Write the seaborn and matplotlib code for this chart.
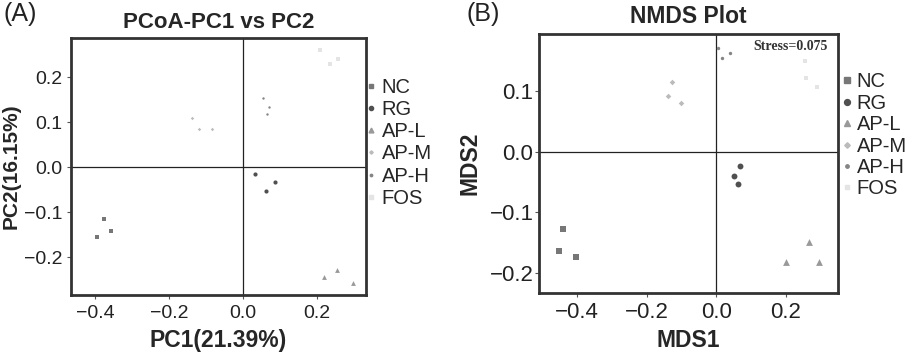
import numpy as np
import pandas as pd
import matplotlib
matplotlib.use("Agg")
import matplotlib.pyplot as plt
import seaborn as sns
from matplotlib.lines import Line2D

sns.set_style("white")
plt.rcParams['font.family'] = ['Liberation Sans', 'DejaVu Sans']

groups = ["NC", "RG", "AP-L", "AP-M", "AP-H", "FOS"]

# PCoA coordinates (3 samples per group)
pc1 = [-0.376, -0.397, -0.358,
       0.033, 0.062, 0.088,
       0.221, 0.254, 0.300,
       -0.139, -0.119, -0.083,
       0.054, 0.072, 0.066,
       0.208, 0.235, 0.259]
pc2 = [-0.116, -0.155, -0.141,
       -0.016, -0.052, -0.033,
       -0.244, -0.228, -0.258,
       0.110, 0.084, 0.084,
       0.155, 0.135, 0.118,
       0.261, 0.229, 0.241]

# NMDS coordinates
mds1 = [-0.441, -0.452, -0.403,
        0.069, 0.050, 0.063,
        0.201, 0.267, 0.296,
        -0.126, -0.138, -0.101,
        0.005, 0.018, 0.041,
        0.254, 0.258, 0.290]
mds2 = [-0.128, -0.164, -0.174,
        -0.023, -0.040, -0.053,
        -0.181, -0.149, -0.181,
        0.115, 0.092, 0.080,
        0.171, 0.154, 0.163,
        0.149, 0.122, 0.106]

stress = 0.075

df = pd.DataFrame({
    "group": np.repeat(groups, 3),
    "PC1": pc1, "PC2": pc2,
    "MDS1": mds1, "MDS2": mds2,
})

colors = {"NC": "#777777", "RG": "#505050", "AP-L": "#999999",
          "AP-M": "#bbbbbb", "AP-H": "#858585", "FOS": "#e4e4e4"}
markers = {"NC": "s", "RG": "o", "AP-L": "^", "AP-M": "D", "AP-H": "o", "FOS": "s"}
sizes_a = {"NC": 9, "RG": 9, "AP-L": 12, "AP-M": 3, "AP-H": 3, "FOS": 7}
sizes_b = {"NC": 16, "RG": 18, "AP-L": 24, "AP-M": 8, "AP-H": 6, "FOS": 12}

fig = plt.figure(figsize=(9.22, 3.53), dpi=100)
ax1 = fig.add_axes([0.0767, 0.164, 0.3207, 0.728])
ax2 = fig.add_axes([0.5846, 0.171, 0.3246, 0.733])


def draw(ax, xcol, ycol, sizes, xlim, ylim, xticks, yticks, tsize, ypad):
    ax.axhline(0, color="#222222", lw=0.9, zorder=1)
    ax.axvline(0, color="#222222", lw=0.9, zorder=1)
    for g in groups:
        sub = df[df["group"] == g]
        sns.scatterplot(data=sub, x=xcol, y=ycol, ax=ax, color=colors[g],
                        marker=markers[g], s=sizes[g], linewidth=0, zorder=3)
    ax.set_xlim(xlim)
    ax.set_ylim(ylim)
    ax.set_xticks(xticks)
    ax.set_yticks(yticks)
    ax.set_xticklabels([f"{t:.1f}".replace("-", "\u2212") for t in xticks])
    ax.set_yticklabels([f"{t:.1f}".replace("-", "\u2212") for t in yticks])
    ax.tick_params(axis="both", which="both", direction="out", length=3,
                   width=0.8, color="#555555", labelsize=tsize,
                   bottom=True, left=True, labelcolor="#222222")
    ax.tick_params(axis="x", pad=4)
    ax.tick_params(axis="y", pad=ypad)
    for sp in ax.spines.values():
        sp.set_color("#333333")
        sp.set_linewidth(2.0)
    handles = [Line2D([], [], marker=markers[g], color=colors[g], ls="",
                      markersize=np.sqrt(sizes[g]) * 1.0) for g in groups]
    return handles


h1 = draw(ax1, "PC1", "PC2", sizes_a, (-0.467, 0.335), (-0.284, 0.287),
          [-0.4, -0.2, 0.0, 0.2], [-0.2, -0.1, 0.0, 0.1, 0.2], 14, 3)
h2 = draw(ax2, "MDS1", "MDS2", sizes_b, (-0.509, 0.351), (-0.232, 0.194),
          [-0.4, -0.2, 0.0, 0.2], [-0.2, -0.1, 0.0, 0.1], 16, 1)

ax1.set_title("PCoA-PC1 vs PC2", fontsize=16, fontweight="bold", pad=7)
ax1.set_xlabel("PC1(21.39%)", fontsize=16.5, fontweight="bold", labelpad=5)
ax1.set_ylabel("PC2(16.15%)", fontsize=15, fontweight="bold", labelpad=2)
ax2.set_title("NMDS Plot", fontsize=16.5, fontweight="bold", pad=8)
ax2.set_xlabel("MDS1", fontsize=16.5, fontweight="bold", labelpad=4)
ax2.set_ylabel("MDS2", fontsize=16.5, fontweight="bold", labelpad=6)

ax2.text(0.966, 0.95, f"Stress={stress:.3f}", transform=ax2.transAxes,
         ha="right", va="center", fontsize=10, fontweight="bold",
         family=["Liberation Serif", "DejaVu Serif"], color="#333333")

for h, x, y, sp in [(h1, 0.3985, 0.780, 0.16), (h2, 0.914, 0.795, 0.12)]:
    fig.legend(h, groups, loc="upper left", bbox_to_anchor=(x, y),
               frameon=False, fontsize=14.5, handlelength=0.4,
               handletextpad=0.3, labelspacing=sp, borderpad=0,
               borderaxespad=0)

fig.text(0.004, 0.995, "(A)", fontsize=18, va="top", ha="left", color="#222222")
fig.text(0.506, 0.995, "(B)", fontsize=18, va="top", ha="left", color="#222222")

fig.savefig("out.png", dpi=100)
